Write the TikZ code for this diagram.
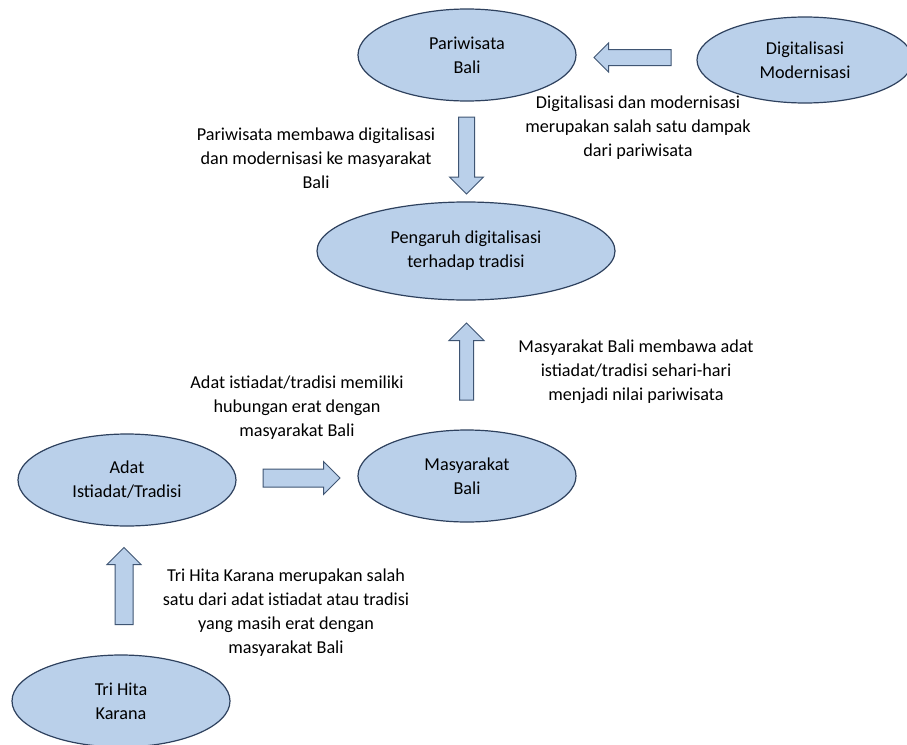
\documentclass[tikz,border=0pt]{standalone}
\usepackage{fontspec}
\setmainfont{Carlito}
\usetikzlibrary{calc,shapes.geometric,shapes.arrows}
\definecolor{bubblefill}{HTML}{BAD0EA}
\definecolor{bubbleline}{HTML}{2E415E}
\definecolor{arrowline}{HTML}{3F5573}

\begin{document}
\begin{tikzpicture}[x=1pt, y=-1pt,
    every node/.style={font=\fontsize{18.2}{24}\selectfont},
    bubble/.style={ellipse, draw=bubbleline, fill=bubblefill, line width=1.2pt,
        minimum width=218, minimum height=92, inner sep=0, align=center},
    blockarrow/.style={single arrow, draw=arrowline, fill=bubblefill, line width=1pt,
        minimum height=77, single arrow head extend=9,
        single arrow head indent=0, inner sep=7.5pt},
    note/.style={align=center, inner sep=0}]
    %%%%% START %%%%%

    \useasboundingbox[fill=white] (0, 0) rectangle (907, 744);

    % ellipses
    \node[bubble] (pariwisata) at (467, 55) {Pariwisata\\Bali};
    \node[bubble, minimum width=216, minimum height=86] (digital) at (805, 60) {Digitalisasi\\Modernisasi};
    \node[bubble, minimum width=298, minimum height=98] (pengaruh) at (466, 251) {Pengaruh digitalisasi\\terhadap tradisi};
    \node[bubble] (masyarakat) at (467, 476) {Masyarakat\\Bali};
    \node[bubble] (adat) at (127, 480) {Adat\\Istiadat/Tradisi};
    \node[bubble] (trihita) at (121, 701) {Tri Hita\\Karana};

    % block arrows
    \node[blockarrow, shape border rotate=270] (pariwisata-pengaruh)
        at ($(pariwisata.south)!0.5!(pengaruh.north)$) {};
    \node[blockarrow, shape border rotate=180, single arrow head extend=6.5] (digital-pariwisata)
        at ($(digital.west)!0.5!(pariwisata.east)$) {};
    \node[blockarrow, shape border rotate=90, inner sep=6.5pt, single arrow head extend=10.5] (masyarakat-pengaruh)
        at ($(masyarakat.north)!0.5!(pengaruh.south)$) {};
    \node[blockarrow, inner sep=8.5pt, single arrow head extend=7.5] (adat-masyarakat)
        at ($(adat.east)!0.5!(masyarakat.west)$) {};
    \node[blockarrow, shape border rotate=90, inner sep=8.5pt, single arrow head extend=8] (trihita-adat)
        at ($(trihita.north)!0.5!(adat.south)$) {};

    % notes
    \node[note] (note-pariwisata) at (316, 158) {Pariwisata membawa digitalisasi\\dan modernisasi ke masyarakat\\Bali};
    \node[note] (note-digital) at (638, 128) {Digitalisasi dan modernisasi\\merupakan salah satu dampak\\dari pariwisata};
    \node[note] (note-masyarakat) at (636, 372) {Masyarakat Bali membawa adat\\istiadat/tradisi sehari-hari\\menjadi nilai pariwisata};
    \node[note] (note-adat) at (297, 408) {Adat istiadat/tradisi memiliki\\hubungan erat dengan\\masyarakat Bali};
    \node[note] (note-trihita) at (286, 613) {Tri Hita Karana merupakan salah\\satu dari adat istiadat atau tradisi\\yang masih erat dengan\\masyarakat Bali};

    %%%%% END %%%%%
\end{tikzpicture}
\end{document}
